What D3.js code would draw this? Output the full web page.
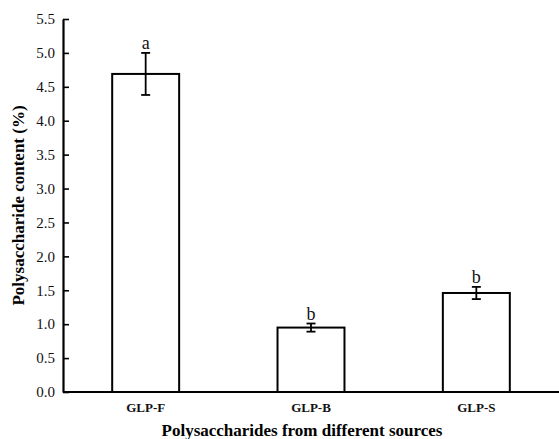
<!DOCTYPE html>
<html>
<head>
<meta charset="utf-8">
<script src="https://cdn.jsdelivr.net/npm/d3@7"></script>
<style>
  html, body { margin: 0; padding: 0; background: #fff; }
  svg { display: block; font-family: "Liberation Serif", "Times New Roman", serif; }
</style>
</head>
<body>
<svg id="chart" width="559" height="439"></svg>
<script>
// Polysaccharide content by source
const categories = ["GLP-F", "GLP-B", "GLP-S"];
const values = [4.69, 0.95, 1.46];
const errors = [0.31, 0.06, 0.09];
const letters = ["a", "b", "b"];
const yTicks = [0, 0.5, 1, 1.5, 2, 2.5, 3, 3.5, 4, 4.5, 5, 5.5];

const serif = "Liberation Serif, Times New Roman, serif";
const svg = d3.select("#chart");
const margin = { left: 63, right: 0, top: 19, bottom: 47 };
const W = 559, H = 439;

const x = d3.scaleBand().domain(categories).range([margin.left, W]).padding(0);
const y = d3.scaleLinear().domain([0, 5.5]).range([H - margin.bottom, margin.top]);
const barW = x.bandwidth() * 0.405;

// Bars
svg.append("g").selectAll("rect")
  .data(categories)
  .join("rect")
  .attr("x", d => x(d) + x.bandwidth() / 2 - barW / 2)
  .attr("y", (d, i) => y(values[i]))
  .attr("width", barW)
  .attr("height", (d, i) => y(0) - y(values[i]))
  .attr("fill", "#fff")
  .attr("stroke", "#000")
  .attr("stroke-width", 2);

// Error bars
const eg = svg.append("g").attr("stroke", "#000").attr("stroke-width", 1.8);
categories.forEach((c, i) => {
  const cx = x(c) + x.bandwidth() / 2;
  const hi = y(values[i] + errors[i]), lo = y(values[i] - errors[i]);
  eg.append("line").attr("x1", cx).attr("x2", cx).attr("y1", hi).attr("y2", lo);
  eg.append("line").attr("x1", cx - 4.5).attr("x2", cx + 4.5).attr("y1", hi).attr("y2", hi);
  eg.append("line").attr("x1", cx - 4.5).attr("x2", cx + 4.5).attr("y1", lo).attr("y2", lo);
});

// Significance letters
svg.append("g").selectAll("text")
  .data(categories)
  .join("text")
  .attr("x", d => x(d) + x.bandwidth() / 2)
  .attr("y", (d, i) => y(values[i] + errors[i]) - 4)
  .attr("text-anchor", "middle")
  .attr("font-family", serif)
  .attr("font-size", 18)
  .attr("fill", "#111")
  .text((d, i) => letters[i]);

// Y axis (ticks point inward)
const yAxis = svg.append("g")
  .attr("transform", `translate(${margin.left},0)`)
  .call(d3.axisLeft(y).tickValues(yTicks).tickSizeInner(-6).tickSizeOuter(0)
    .tickFormat(d3.format(".1f")).tickPadding(8));
yAxis.attr("font-family", serif);
yAxis.select(".domain").attr("stroke-width", 2.2);
yAxis.selectAll(".tick line").attr("stroke-width", 1.6);
yAxis.selectAll(".tick text").attr("font-size", 15).attr("fill", "#111");

// X axis
const xAxis = svg.append("g")
  .attr("transform", `translate(0,${y(0)})`)
  .call(d3.axisBottom(x).tickSize(0).tickPadding(11));
xAxis.attr("font-family", serif);
xAxis.select(".domain").attr("stroke-width", 2.2).attr("d", `M${margin.left},0H${W}`);
xAxis.selectAll(".tick text").attr("font-size", 13).attr("font-weight", "bold").attr("fill", "#111");

// Axis titles
svg.append("text")
  .attr("x", 302).attr("y", 436)
  .attr("text-anchor", "middle")
  .attr("font-family", serif)
  .attr("font-size", 17).attr("font-weight", "bold")
  .text("Polysaccharides from different sources");

svg.append("text")
  .attr("transform", `translate(24,${(y(0) + y(5.5)) / 2}) rotate(-90)`)
  .attr("text-anchor", "middle")
  .attr("font-family", serif)
  .attr("font-size", 17).attr("font-weight", "bold")
  .text("Polysaccharide content (%)");
</script>
</body>
</html>
